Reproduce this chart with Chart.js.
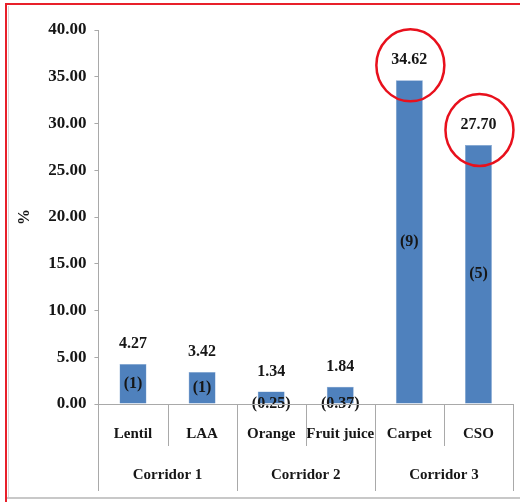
<!DOCTYPE html>
<html>
<head>
<meta charset="utf-8">
<script src="https://cdn.jsdelivr.net/npm/chart.js@4.4.1/dist/chart.umd.min.js"></script>
<style>
  html, body { margin: 0; padding: 0; background: #fff; }
  #wrap { width: 520px; height: 502px; position: relative; }
</style>
</head>
<body>
<div id="wrap"><canvas id="c" width="520" height="502"></canvas></div>
<script>
const categories = ['Lentil', 'LAA', 'Orange', 'Fruit juice', 'Carpet', 'CSO'];
const groups = ['Corridor 1', 'Corridor 2', 'Corridor 3'];
const groupSizes = [2, 2, 2];
const values = [4.27, 3.42, 1.34, 1.84, 34.62, 27.70];
const valueLabels = ['4.27', '3.42', '1.34', '1.84', '34.62', '27.70'];
const innerLabels = ['(1)', '(1)', '(0.25)', '(0.37)', '(9)', '(5)'];
const circled = [false, false, false, false, true, true];
const yMin = 0, yMax = 40, yStep = 5;

const FONT = "'Liberation Serif', 'Times New Roman', serif";
const TEXT = '#161616';
const LINE = '#a9a9a9';

const framePlugin = {
  id: 'frame',
  beforeDraw(chart) {
    const ctx = chart.ctx;
    ctx.save();
    ctx.fillStyle = '#fff';
    ctx.fillRect(0, 0, chart.width, chart.height);
    ctx.strokeStyle = '#d9d9d9';
    ctx.lineWidth = 1;
    ctx.beginPath();
    ctx.moveTo(8.5, 6); ctx.lineTo(8.5, 497);
    ctx.stroke();
    ctx.strokeStyle = '#c8c8c8';
    ctx.lineWidth = 2;
    ctx.beginPath();
    ctx.moveTo(7, 498); ctx.lineTo(520, 498);
    ctx.stroke();
    ctx.strokeStyle = '#e8202a';
    ctx.lineWidth = 2;
    ctx.beginPath();
    ctx.moveTo(6, 502); ctx.lineTo(6, 4); ctx.lineTo(520, 4);
    ctx.stroke();
    ctx.restore();
  }
};

const separatorsPlugin = {
  id: 'separators',
  afterDraw(chart) {
    const ctx = chart.ctx;
    const a = chart.chartArea;
    const n = categories.length;
    const step = (a.right - a.left) / n;
    const groupEdges = new Set([0]);
    let acc = 0;
    groupSizes.forEach(s => { acc += s; groupEdges.add(acc); });
    ctx.save();
    ctx.strokeStyle = LINE;
    ctx.lineWidth = 1;
    ctx.beginPath();
    ctx.moveTo(a.left, Math.round(a.bottom) + 0.5);
    ctx.lineTo(a.right, Math.round(a.bottom) + 0.5);
    for (let i = 0; i <= n; i++) {
      const x = Math.round(a.left + i * step) + 0.5;
      const long = groupEdges.has(i);
      ctx.moveTo(x, a.bottom);
      ctx.lineTo(x, a.bottom + (long ? 87 : 42));
    }
    ctx.stroke();
    ctx.restore();
  }
};

const labelsPlugin = {
  id: 'barLabels',
  afterDatasetsDraw(chart) {
    const ctx = chart.ctx;
    const meta = chart.getDatasetMeta(0);
    ctx.save();
    ctx.fillStyle = TEXT;
    ctx.textAlign = 'center';
    ctx.textBaseline = 'middle';
    ctx.font = 'bold 16px ' + FONT;
    meta.data.forEach((bar, i) => {
      const top = bar.y, base = bar.base;
      ctx.fillText(valueLabels[i], bar.x, top - 20);
      const h = base - top;
      const yc = h > 24 ? (top + base) / 2 : base;
      ctx.fillText(innerLabels[i], bar.x, yc);
      if (circled[i]) {
        ctx.save();
        ctx.strokeStyle = '#e8101c';
        ctx.lineWidth = 2.5;
        ctx.beginPath();
        ctx.ellipse(bar.x + 1, top - 15, 34, 36, 0, 0, Math.PI * 2);
        ctx.stroke();
        ctx.restore();
      }
    });
    ctx.restore();
  }
};

new Chart(document.getElementById('c'), {
  type: 'bar',
  data: {
    labels: categories,
    datasets: [{
      data: values,
      backgroundColor: '#4f81bd',
      borderColor: '#7fa3d0',
      borderWidth: 0.5,
      barPercentage: 0.39,
      categoryPercentage: 1.0
    }]
  },
  options: {
    responsive: false,
    animation: false,
    devicePixelRatio: 1,
    layout: { padding: { left: 9, right: 7, top: 30, bottom: 16 } },
    plugins: { legend: { display: false }, tooltip: { enabled: false } },
    scales: {
      x: {
        type: 'category',
        offset: true,
        grid: { display: false, drawTicks: false },
        border: { display: false },
        ticks: { color: TEXT, font: { family: FONT, size: 15, weight: 'bold' }, padding: 21, maxRotation: 0, autoSkip: false }
      },
      xg: {
        type: 'category',
        axis: 'x',
        position: 'bottom',
        labels: groups,
        offset: true,
        grid: { display: false, drawTicks: false },
        border: { display: false },
        ticks: { color: TEXT, font: { family: FONT, size: 15, weight: 'bold' }, padding: 2, maxRotation: 0, autoSkip: false }
      },
      y: {
        min: yMin,
        max: yMax,
        ticks: {
          stepSize: yStep,
          color: TEXT,
          font: { family: FONT, size: 17, weight: 'bold' },
          padding: 8,
          callback: v => Number(v).toFixed(2)
        },
        grid: { drawOnChartArea: false, drawTicks: true, tickLength: 4, color: LINE },
        border: { display: true, color: LINE },
        title: { display: true, text: '%', color: TEXT, font: { family: FONT, size: 16, weight: 'bold' }, padding: { top: 6, bottom: 6 } }
      }
    }
  },
  plugins: [framePlugin, separatorsPlugin, labelsPlugin]
});
</script>
</body>
</html>
